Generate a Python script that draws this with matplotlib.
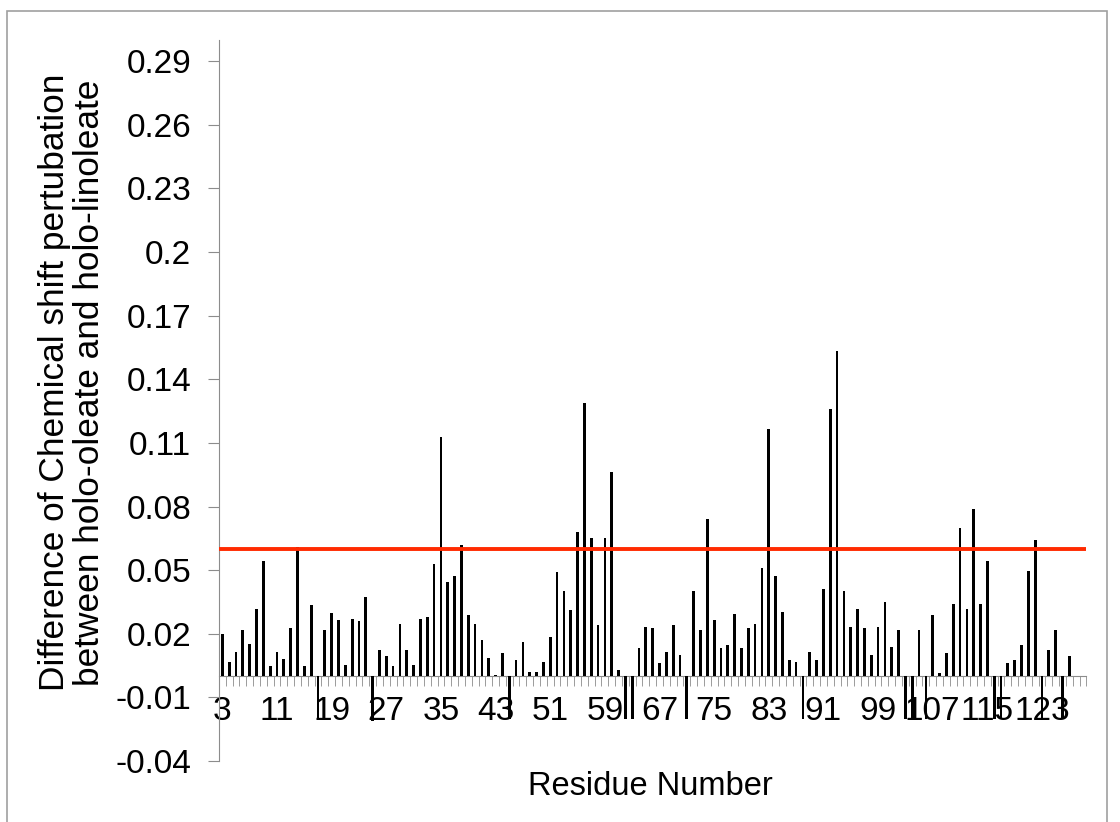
import matplotlib.pyplot as plt
from matplotlib.patches import Rectangle

plt.rcParams['font.family'] = ['Liberation Sans', 'DejaVu Sans']

# residue numbers and chemical shift perturbation differences
residues = list(range(3, 130))
csp_diff = [
    0.0201, 0.0069, 0.0116, 0.0217, 0.0154, 0.0318, 0.0544, 0.0046, 0.0116, 0.0079,  # 3-12
    0.0225, 0.0607, 0.0046, 0.0335, -0.0200, 0.0217, 0.0296, 0.0264, 0.0053, 0.0272,  # 13-22
    0.0258, 0.0373, -0.0210, 0.0124, 0.0093, 0.0047, 0.0248, 0.0124, 0.0053, 0.0272,  # 23-32
    0.0280, 0.0528, 0.1129, 0.0442, 0.0473, 0.0619, 0.0288, 0.0248, 0.0171, 0.0085,  # 33-42
    0.0006, 0.0108, -0.0200, 0.0077, 0.0162, 0.0022, 0.0022, 0.0069, 0.0185, 0.0489,  # 43-52
    0.0402, 0.0311, 0.0682, 0.1290, 0.0651, 0.0241, 0.0651, 0.0965, 0.0030, -0.0200,  # 53-62
    -0.0200, 0.0132, 0.0233, 0.0225, 0.0061, 0.0116, 0.0241, 0.0101, -0.0200, 0.0403,  # 63-72
    0.0217, 0.0743, 0.0264, 0.0132, 0.0147, 0.0295, 0.0132, 0.0225, 0.0248, 0.0512,  # 73-82
    0.1167, 0.0473, 0.0303, 0.0077, 0.0069, -0.0200, 0.0116, 0.0077, 0.0411, 0.1262,  # 83-92
    0.1535, 0.0403, 0.0233, 0.0318, 0.0225, 0.0101, 0.0233, 0.0350, 0.0139, 0.0217,  # 93-102
    -0.0200, -0.0200, 0.0217, -0.0200, 0.0288, 0.0014, 0.0108, 0.0341, 0.0698, 0.0318,  # 103-112
    0.0790, 0.0341, 0.0544, -0.0200, -0.0200, 0.0061, 0.0077, 0.0148, 0.0497, 0.0643,  # 113-122
    -0.0200, 0.0124, 0.0217, -0.0200, 0.0093, 0.0, 0.0,  # 123-129
]
cutoff = 0.06

y_ticks = [-0.04, -0.01, 0.02, 0.05, 0.08, 0.11, 0.14, 0.17, 0.2, 0.23, 0.26, 0.29]
y_tick_labels = ['-0.04', '-0.01', '0.02', '0.05', '0.08', '0.11', '0.14', '0.17',
                 '0.2', '0.23', '0.26', '0.29']

fig = plt.figure(figsize=(11.2, 8.22), dpi=100)
ax = fig.add_axes([0.1955, 0.0742, 0.7745, 0.8771])

idx = list(range(len(residues)))
ax.bar(idx, csp_diff, width=0.4, color='black', zorder=3)
ax.axhline(cutoff, color='#ff2a00', linewidth=2.8, zorder=4)

ax.set_xlim(-0.5, len(residues) - 0.5)
ax.set_ylim(-0.04, 0.30)

axis_grey = '#8c8c8c'
for side in ['top', 'right']:
    ax.spines[side].set_visible(False)
ax.spines['left'].set_color(axis_grey)
ax.spines['bottom'].set_color(axis_grey)
ax.spines['bottom'].set_position(('data', 0))

ax.set_yticks(y_ticks)
ax.set_yticklabels(y_tick_labels, fontsize=24)
ax.tick_params(axis='y', direction='out', length=8, color=axis_grey, pad=12)

ax.set_xticks(idx[::8])
ax.set_xticklabels([str(r) for r in residues[::8]], fontsize=24)
ax.set_xticks([i - 0.5 for i in range(len(residues) + 1)], minor=True)
ax.tick_params(axis='x', which='major', length=0, pad=14)
ax.tick_params(axis='x', which='minor', direction='out', length=7, color=axis_grey)

ax.set_ylabel('Difference of Chemical shift pertubation\nbetween holo-oleate and holo-linoleate',
              fontsize=25.4, linespacing=1.1)
ax.yaxis.set_label_coords(-0.130, 0.525)
ax.set_xlabel('Residue Number', fontsize=23.5)
ax.xaxis.label.set_verticalalignment('center')
ax.xaxis.set_label_coords(0.497, -0.036)

# chart area frame
fig.patches.append(Rectangle((0.00625, -0.1), 0.982, 1.0866, transform=fig.transFigure,
                             fill=False, edgecolor='#a0a0a0', linewidth=1.2))

fig.savefig('out.png', dpi=100)
